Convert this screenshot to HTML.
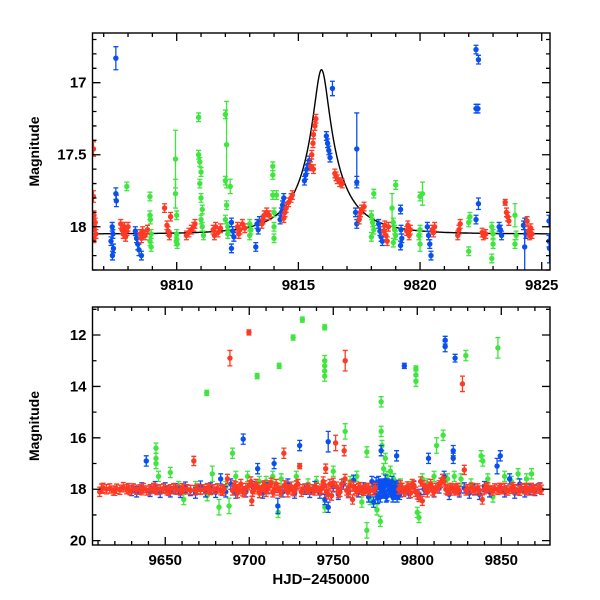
<!DOCTYPE html>
<html><head><meta charset="utf-8">
<style>
html,body{margin:0;padding:0;background:#fff;}
svg{display:block;font-family:"Liberation Sans",sans-serif;}
</style></head>
<body>
<svg id="chart" width="600" height="600" viewBox="0 0 600 600"></svg>
<script>
// ---------- TOP PANEL DATA (zoom on event) : [HJD, magnitude, error] ----------
const topRed = [
[9806.58,17.46,0.05],[9806.58,17.79,0.04],[9806.6,17.92,0.03],[9806.65,17.97,0.03],[9806.62,18.02,0.03],[9806.68,18.05,0.03],[9806.6,18.08,0.03],
[9807.7,17.98,0.03],[9807.75,18.02,0.03],[9807.8,18.05,0.03],[9807.85,18.0,0.03],[9807.9,18.07,0.03],[9807.95,18.03,0.03],[9808.0,18.0,0.03],
[9808.5,18.05,0.03],[9808.55,18.08,0.03],[9808.6,18.03,0.03],[9808.7,18.06,0.03],[9808.8,18.02,0.03],
[9809.5,17.87,0.03],[9809.6,17.99,0.03],[9809.65,18.03,0.03],[9809.7,18.06,0.03],[9809.75,17.93,0.03],
[9810.4,18.06,0.03],[9810.5,18.04,0.03],[9810.6,18.02,0.03],[9810.7,18.0,0.03],[9810.75,17.98,0.03],
[9811.5,18.02,0.03],[9811.55,18.06,0.03],[9811.6,18.0,0.03],[9811.7,18.04,0.03],[9811.8,18.01,0.03],
[9812.5,18.0,0.03],[9812.55,18.05,0.03],[9812.6,18.02,0.03],[9812.7,17.98,0.03],[9812.8,18.01,0.03],
[9813.5,17.98,0.03],[9813.55,17.95,0.03],[9813.6,17.92,0.03],[9813.7,17.9,0.03],[9813.8,17.92,0.03],
[9814.4,17.94,0.03],[9814.45,17.9,0.03],[9814.5,17.87,0.03],[9814.6,17.83,0.03],[9814.7,17.8,0.03],[9814.75,17.78,0.03],
[9815.5,17.58,0.03],[9815.55,17.5,0.03],[9815.6,17.42,0.03],[9815.62,17.36,0.03],[9815.68,17.3,0.03],[9815.72,17.25,0.03],[9815.62,17.6,0.03],
[9816.5,17.63,0.03],[9816.55,17.65,0.03],[9816.6,17.67,0.03],[9816.7,17.69,0.03],[9816.8,17.7,0.03],
[9817.5,17.95,0.03],[9817.55,17.9,0.03],[9817.6,17.88,0.03],[9817.7,17.86,0.03],
[9818.5,18.03,0.03],[9818.55,17.99,0.03],[9818.6,18.06,0.03],[9818.65,18.1,0.03],[9818.7,18.0,0.03],
[9819.45,18.03,0.03],[9819.5,17.99,0.03],[9819.55,18.06,0.03],[9819.6,18.02,0.03],
[9820.5,18.02,0.03],[9820.55,18.04,0.03],[9820.6,18.0,0.03],
[9821.55,18.06,0.03],[9821.6,18.02,0.03],[9821.65,17.98,0.03],
[9822.55,18.04,0.03],[9822.6,18.06,0.03],[9822.7,18.05,0.03],
[9823.5,17.83,0.02],[9823.55,17.9,0.03],[9823.6,17.93,0.03],[9823.65,17.96,0.03],
[9824.4,17.96,0.03],[9824.45,18.03,0.03],[9824.5,18.06,0.03],[9824.55,18.01,0.03],[9824.6,18.05,0.03]
];
const topBlue = [
[9807.5,16.83,0.08],[9807.5,17.77,0.04],[9807.52,17.82,0.04],[9807.35,18.0,0.03],[9807.38,18.05,0.03],[9807.3,18.1,0.03],[9807.4,18.15,0.03],[9807.36,18.2,0.03],
[9808.3,18.03,0.03],[9808.35,18.08,0.03],[9808.4,18.12,0.04],[9808.45,18.16,0.04],[9808.5,18.05,0.03],[9808.55,18.2,0.03],
[9812.25,17.97,0.03],[9812.3,18.03,0.03],[9812.35,18.07,0.03],[9812.25,18.15,0.03],
[9813.25,18.14,0.03],[9813.3,17.98,0.03],[9813.35,18.02,0.03],[9813.4,17.96,0.03],
[9814.25,17.95,0.03],[9814.3,17.9,0.03],[9814.35,17.85,0.03],[9814.4,17.8,0.03],
[9815.25,17.68,0.03],[9815.3,17.64,0.03],[9815.35,17.6,0.03],[9815.4,17.57,0.03],[9815.45,17.54,0.03],
[9816.15,17.37,0.03],[9816.2,17.42,0.03],[9816.25,17.47,0.03],[9816.3,17.52,0.03],
[9816.4,17.04,0.05],[9817.4,17.46,0.25],[9817.4,17.69,0.04],[9817.35,17.9,0.03],[9817.4,17.98,0.03],
[9818.3,17.98,0.03],[9818.35,18.03,0.03],[9818.4,18.07,0.03],[9818.45,18.1,0.03],
[9819.2,17.88,0.03],[9819.22,18.02,0.03],[9819.25,18.08,0.03],[9819.2,18.13,0.03],
[9820.3,18.0,0.03],[9820.35,18.06,0.03],[9820.4,18.12,0.03],[9820.45,18.2,0.03],
[9822.3,16.77,0.03],[9822.4,16.84,0.03],[9822.3,17.18,0.03],[9822.38,17.18,0.03],[9822.4,17.84,0.04],[9822.3,17.95,0.03],
[9823.3,18.02,0.03],[9823.35,18.06,0.03],[9823.25,18.0,0.03],
[9824.25,17.99,0.03],[9824.3,18.14,0.2],[9824.35,18.05,0.03],
[9825.3,17.96,0.04],[9825.3,18.1,0.04],[9825.32,18.15,0.1]
];
const topGreen = [
[9807.95,17.72,0.03],
[9808.9,17.79,0.03],[9808.9,17.92,0.03],[9808.92,17.95,0.03],[9808.95,18.05,0.03],[9808.9,18.1,0.03],[9808.95,18.14,0.03],
[9809.95,17.53,0.2],[9809.95,17.77,0.1],[9810.0,17.92,0.03],[9810.0,18.05,0.03],[9809.98,18.1,0.03],[9810.02,18.12,0.03],
[9810.9,17.24,0.03],[9810.9,17.5,0.03],[9810.95,17.55,0.03],[9811.0,17.62,0.03],[9810.95,17.7,0.03],[9811.0,17.8,0.03],[9811.05,17.88,0.03],[9811.0,17.95,0.03],[9811.05,18.0,0.03],[9811.1,18.06,0.03],
[9812.0,17.22,0.03],[9812.05,17.43,0.3],[9812.0,17.68,0.03],[9812.05,17.85,0.03],[9812.0,17.95,0.03],[9812.1,18.0,0.03],[9812.1,18.05,0.03],[9812.2,17.72,0.05],
[9813.0,17.98,0.03],[9813.05,18.02,0.03],[9813.0,18.06,0.03],
[9813.95,17.58,0.03],[9813.95,17.64,0.03],[9813.95,17.78,0.03],[9814.0,17.9,0.03],[9814.0,18.0,0.03],[9814.0,18.08,0.03],[9814.1,17.78,0.03],
[9818.1,17.77,0.03],[9818.0,17.92,0.03],[9818.05,17.97,0.03],[9818.1,18.02,0.03],[9818.0,18.07,0.03],
[9819.0,17.71,0.03],[9818.85,17.87,0.1],[9818.9,17.97,0.03],[9818.95,18.02,0.03],[9819.0,18.06,0.03],[9818.9,18.11,0.03],
[9820.0,17.79,0.03],[9820.1,17.77,0.08],[9820.0,18.02,0.03],[9819.95,18.06,0.03],[9820.0,18.12,0.05],
[9822.0,18.17,0.03],[9822.0,17.97,0.03],[9822.05,17.93,0.03],
[9822.95,18.0,0.03],[9823.0,18.05,0.03],[9823.0,18.12,0.03],[9822.95,18.22,0.03],
[9823.9,17.92,0.08],[9823.95,18.06,0.03],[9823.9,18.12,0.03]
];
// microlensing model parameters (blended Paczynski)
const modelT0 = 9815.95, modelU0 = 0.14, modelTE = 2.1, modelFs = 0.3, modelBase = 18.05;

// ---------- BOTTOM PANEL DATA (full season) ----------
const botRed = [
[9611,18.1],[9613,17.95],[9615,18.0],[9617,17.97],[9619,18.05],[9621,17.98],[9623,18.02],[9625,17.92],[9627,18.0],[9629,18.04],[9631,17.97],[9633,18.02],[9635,18.0],[9637,17.96],[9639,18.05],[9641,18.0],[9643,17.95],[9645,18.03],[9647,18.0],[9649,17.97],[9651,18.04],[9653,18.0],[9655,17.96],[9657,18.02],[9659,18.05],[9661,17.98],[9663,18.0],[9665,18.03],[9667,16.9],[9669,17.98],[9671,18.02],[9673,18.0],[9675,17.96],[9677,18.03],[9679,18.0],[9681,17.97],[9683,18.04],[9685,18.0],[9687,17.6],[9688.5,12.9,0.3],[9690,18.05],[9692,17.9],[9694,18.0],[9696,18.08],[9698,17.95],[9699.8,11.9,0.1],[9701,17.7],[9701.5,18.45],[9703,18.0],[9705,17.92],[9707,18.05],[9709,17.85],[9711,18.0],[9713,17.75],[9715,18.05],[9717,17.95],[9719,18.1],[9720.6,16.6,0.2],[9722,17.9],[9724,18.0],[9726,18.05],[9728,17.85],[9730,17.1,0.1],[9732,18.0],[9734,17.98],[9736,18.02],[9738,18.0],[9740,17.95],[9742,18.05],[9744,17.7],[9745.5,17.2],[9746,18.1],[9748,17.8],[9749,18.25],[9751.4,16.2,0.3],[9752,17.9],[9754,18.1],[9756.5,16.5,0.2],[9757.1,13.0,0.4],[9757,17.6],[9758,18.05],[9760,17.85],[9761.5,18.4],[9763,18.0],[9765,17.95],[9767,18.02],[9769,18.0],[9771,17.97],[9774,18.05],[9775,17.95],[9789,18.0],[9791,17.95],[9793,18.05],[9795,17.97],[9797,17.8],[9799,18.1],[9801,18.3],[9802,17.7],[9803,18.45],[9805,18.0],[9807,17.9],[9809,18.05],[9811,17.95],[9813,17.85],[9815,17.6],[9817,18.0],[9819,18.02],[9821,17.97],[9823,18.0],[9825,18.05],[9826.9,13.9,0.3],[9828,17.25],[9830,18.0],[9832,17.95],[9834,18.05],[9836,17.97],[9838.7,18.4],[9840,18.0],[9842,17.92],[9844,18.05],[9846,17.97],[9848,18.02],[9850,18.0],[9852,17.95],[9854,18.05],[9856,17.98],[9858,18.0],[9860,18.04],[9862,17.96],[9864,18.0],[9866,18.05],[9868,17.95],[9870,18.0],[9872,17.97],[9874,18.02],
[9612,17.98],[9620,18.06],[9628,17.96],[9636,18.04],[9644,17.98],[9652,18.06],[9660,17.96],[9668,18.04],[9676,17.98],[9684,18.06],[9691,17.85],[9693,18.15],[9695,17.8],[9697,18.12],[9700,17.85],[9702,18.1],[9704,17.8],[9706,18.15],[9708,17.9],[9710,18.1],[9712,17.85],[9714,18.12],[9716,17.8],[9718,18.05],[9721,17.85],[9723,18.12],[9725,17.9],[9727,18.08],[9729,17.8],[9731,18.1],[9735,17.95],[9739,18.05],[9743,17.98],[9745,17.85],[9747,18.2],[9750,17.75],[9753,18.15],[9755,17.8],[9759,18.15],[9762,17.9],[9764,18.08],[9766,17.92],[9768,18.06],[9770,17.95],[9772,18.05],[9790,17.85],[9792,18.1],[9794,17.9],[9796,18.15],[9798,17.85],[9800,18.2],[9804,17.85],[9806,18.12],[9808,17.8],[9810,18.1],[9812,17.95],[9814,17.75],[9816,17.7],[9818,18.05],[9820,17.95],[9822,18.05],[9824,17.95],[9829,18.05],[9833,17.95],[9837,18.05],[9841,17.95],[9845,18.05],[9849,17.95],[9853,18.05],[9857,17.92],[9861,18.06],[9865,17.95],[9869,18.05],[9873,17.95]
];
const botBlue = [
[9630,18.05],[9633,18.1],[9636,17.95],[9638.7,16.9],[9641,18.08],[9644,17.9],[9647,18.12],[9650,17.95],[9653,18.1],[9656,17.98],[9659,18.12],[9662,17.92],[9665,18.05],[9668,18.15],[9671,17.88],[9674,18.1],[9677,17.95],[9680,18.12],[9683,17.6],[9686,18.1],[9689,17.8],[9692,18.15],[9696.4,16.05],[9698,18.1],[9702,17.9],[9705,17.2],[9708,18.15],[9711,17.95],[9714.8,17.0],[9717,18.65,0.3],[9720,18.1],[9723,17.8],[9727,18.15],[9730,16.3],[9733,18.0],[9736,18.12],[9739,17.9],[9742,18.15],[9745,18.4],[9747,16.15,0.4],[9747,18.7],[9750,17.9],[9753,18.2],[9756,17.8],[9759,18.1],[9762,17.65],[9765,18.1],[9768,17.95],[9771,18.3],[9773,17.7],[9774,18.5],[9775,17.9],[9776,18.2],[9777,17.7],[9778,18.3],[9778.5,16.5],[9779,17.8],[9780,18.15],[9781,17.65],[9782,18.25],[9783,17.85],[9784,18.1],[9785,17.7],[9786,18.2],[9787,17.9],[9787.7,16.7],[9788,18.3],[9790,18.1],[9792.3,13.2,0.1],[9795,18.15],[9798,17.9],[9801,18.2],[9804,18.0],[9806.7,16.8],[9810,18.1],[9813,17.95],[9816.6,12.2,0.15],[9816.6,12.45],[9816,17.5],[9819,18.2],[9821.4,16.5],[9821.4,16.8],[9822.5,12.9,0.15],[9825,18.1],[9828,17.95],[9831,18.15],[9834,18.0],[9837,18.2],[9840,17.9],[9843,18.1],[9847.5,17.1,0.3],[9849.4,16.7],[9852,18.1],[9855,17.6],[9858,18.15],[9861,17.8],[9864,18.1],[9867,18.0],[9870,18.05],[9873,17.95],
[9774.5,18.0],[9775.5,17.75],[9776.5,18.35],[9777.5,17.95],[9778.8,17.85],[9779.5,18.1],[9780.5,17.9],[9781.5,18.3],[9782.5,17.8],[9783.5,18.0],[9784.5,17.85],[9785.5,18.3],[9786.5,17.95],[9787.5,18.1],[9788.5,17.85],[9789.5,18.2]
];
const botGreen = [
[9644.5,16.4],[9644.5,16.8],[9644.5,17.0],[9646,17.5],[9653,17.35],[9658,17.9],[9661,18.4],[9668,17.9],[9674.7,14.25,0.1],[9675,18.25],[9678,17.4,0.3],[9682,18.7,0.3],[9686,17.9],[9688,18.65,0.3],[9690,16.6],[9692,17.5],[9699,17.5],[9704.7,13.6,0.1],[9706,17.7],[9710,17.7],[9714,17.5],[9717.2,18.9],[9717.8,13.2,0.1],[9719,17.6],[9726.1,12.1,0.1],[9728,17.5],[9731.6,11.4,0.1],[9735,17.8],[9740,17.7],[9744.9,11.7,0.1],[9744.9,13.0],[9744.9,13.2],[9744.9,13.4],[9744.9,13.6],[9745,18.7],[9750,17.3],[9757.1,15.75,0.3],[9760,17.7],[9764,17.5],[9767,18.5],[9770,16.55],[9770,19.6,0.3],[9772,18.4],[9774,17.9],[9776,18.8],[9778,19.25],[9778.5,14.6],[9778.5,15.75],[9779,16.3],[9780,17.2],[9781,16.8],[9782,17.5],[9784,17.3],[9786,17.6],[9790,17.8],[9795,17.9],[9799.2,13.3,0.1],[9799.2,13.55],[9799.2,13.8],[9800,18.9],[9801,19.1],[9803,17.6],[9806,17.8],[9810,17.5],[9811.5,16.3,0.3],[9815.4,15.9],[9818,17.6],[9822,17.5],[9826,17.6],[9828.9,12.8],[9832,17.8],[9838,16.7],[9839,16.9],[9842,17.6],[9845,18.3],[9848,12.5,0.4],[9852,17.5],[9856,17.7],[9860,17.4],[9865,17.6],[9868,17.4]
];

// ---------- layout ----------
const NS = "http://www.w3.org/2000/svg";
const svg = document.getElementById("chart");
function mk(tag, attrs, parent){
  const e = document.createElementNS(NS, tag);
  for (const k in attrs) e.setAttribute(k, attrs[k]);
  (parent||svg).appendChild(e);
  return e;
}
const COL = {red:"#ff3a24", blue:"#0a50f0", green:"#3ee63e"};

function panel(cfg){
  const g = mk("g", {});
  
  
  const {x0,x1,y0,y1,tmin,tmax,mtop,mbot} = cfg;
  const xs = t => x0 + (t - tmin) / (tmax - tmin) * (x1 - x0);
  const ys = m => y0 + (m - mtop) / (mbot - mtop) * (y1 - y0);
  const clip = mk("clipPath", {id: cfg.name + "-clip"}, g);
  mk("rect", {x:x0, y:y0, width:x1-x0, height:y1-y0}, clip);
  const plot = mk("g", {"clip-path": "url(#" + cfg.name + "-clip)"}, g);
  
  
  if (cfg.model){
    let d = "";
    for (let px = x0; px <= x1; px += 0.5){
      const t = tmin + (px - x0) / (x1 - x0) * (tmax - tmin);
      const u = Math.sqrt(modelU0*modelU0 + Math.pow((t - modelT0)/modelTE, 2));
      const A = (u*u + 2) / (u * Math.sqrt(u*u + 4));
      const F = modelFs * A + (1 - modelFs);
      const m = modelBase - 2.5 * Math.log10(F);
      d += (d ? "L" : "M") + px.toFixed(1) + "," + ys(m).toFixed(1);
    }
    const p = mk("path", {d:d, fill:"none", stroke:"#000", "stroke-width":1.4}, plot);
    
    
  }
  cfg.series.forEach(s => {
    const sg = mk("g", {fill: COL[s.color], stroke: COL[s.color]}, plot);
    
    
    s.data.forEach(pt => {
      const cx = xs(pt[0]), cy = ys(pt[1]);
      const err = pt[2] !== undefined ? pt[2] : s.defErr;
      const ya = ys(pt[1] - err), yb = ys(pt[1] + err);
      if (Math.abs(yb - ya) > 4){
        const eb = mk("path", {d:`M${cx},${ya}V${yb}M${cx-2.5},${ya}h5M${cx-2.5},${yb}h5`, "stroke-width":1.3, fill:"none"}, sg);
        
        
      }
      const c = mk("circle", {cx:cx, cy:cy, r:2.7, stroke:"none"}, sg);
      
      
    });
  });
  const fr = mk("rect", {x:x0, y:y0, width:x1-x0, height:y1-y0, fill:"none", stroke:"#000", "stroke-width":1.4}, g);
  
  
  let td = "";
  const eps = 1e-6;
  for (let t = Math.ceil(tmin / cfg.xminor) * cfg.xminor; t <= tmax + eps; t += cfg.xminor){
    const major = Math.abs(t / cfg.xmajor - Math.round(t / cfg.xmajor)) < 1e-4;
    const L = major ? 8 : 4, x = xs(t);
    td += `M${x},${y1}v${-L}M${x},${y0}v${L}`;
  }
  for (let m = Math.ceil(mtop / cfg.yminor - eps) * cfg.yminor; m <= mbot + eps; m += cfg.yminor){
    const major = Math.abs(m / cfg.ymajor - Math.round(m / cfg.ymajor)) < 1e-4;
    const L = major ? 8 : 4, y = ys(m);
    td += `M${x0},${y}h${L}M${x1},${y}h${-L}`;
  }
  const tk = mk("path", {d:td, stroke:"#000", "stroke-width":1.3, fill:"none"}, g);
  
  
  cfg.xlabels.forEach(v => {
    const tx = mk("text", {x:xs(v), y:y1+20, "text-anchor":"middle", "font-size":15, "font-weight":"bold"}, g);
    tx.textContent = v;
    
    
  });
  cfg.ylabels.forEach(v => {
    const tx = mk("text", {x:x0-6, y:ys(v)+5, "text-anchor":"end", "font-size":15, "font-weight":"bold"}, g);
    tx.textContent = v;
    
    
  });
  const yc = (y0 + y1) / 2;
  const yt = mk("text", {x:0, y:0, transform:`translate(39,${yc}) rotate(-90)`, "text-anchor":"middle", "font-size":14, "font-weight":"bold"}, g);
  yt.textContent = "Magnitude";
  
  
}

const topXLabels = [9810, 9815, 9820, 9825];
const topYLabels = [17, 17.5, 18];
const botXLabels = [9650, 9700, 9750, 9800, 9850];
const botYLabels = [12, 14, 16, 18, 20];

panel({name:"top-panel", x0:92.5, x1:550, y0:33, y1:270, tmin:9806.54, tmax:9825.34, mtop:16.655, mbot:18.30,
  xminor:1, xmajor:5, yminor:0.1, ymajor:0.5, xlabels:topXLabels, ylabels:topYLabels, model:true,
  series:[{name:"green-series-top", color:"green", data:topGreen, defErr:0.03},
          {name:"blue-series-top", color:"blue", data:topBlue, defErr:0.03},
          {name:"red-series-top", color:"red", data:topRed, defErr:0.03}]});
panel({name:"bottom-panel", x0:92.5, x1:550, y0:307, y1:545, tmin:9606.7, tmax:9879, mtop:10.91, mbot:20.17,
  xminor:10, xmajor:50, yminor:1, ymajor:2, xlabels:botXLabels, ylabels:botYLabels, model:false,
  series:[{name:"green-series-bottom", color:"green", data:botGreen, defErr:0.2},
          {name:"blue-series-bottom", color:"blue", data:botBlue, defErr:0.2},
          {name:"red-series-bottom", color:"red", data:botRed, defErr:0.18}]});
const xt = mk("text", {x:321, y:584, "text-anchor":"middle", "font-size":15, "font-weight":"bold"});
xt.textContent = "HJD\u22122450000";


</script>
</body></html>
